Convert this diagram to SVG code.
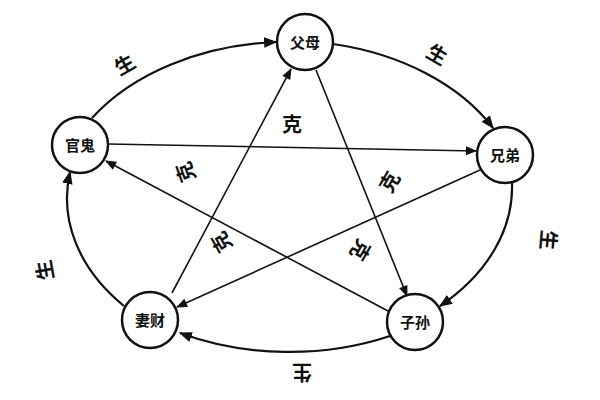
<svg xmlns="http://www.w3.org/2000/svg" width="600" height="400" viewBox="0 0 600 400">
<defs>
<style>
.n{fill:#fff;stroke:#111;stroke-width:2.5}
.t{font-family:"Noto Sans CJK SC",sans-serif;font-size:15px;font-weight:bold;text-anchor:middle;fill:#111}
.l{font-family:"Noto Sans CJK SC",sans-serif;font-size:20px;font-weight:bold;text-anchor:middle;fill:#111}
.c{fill:none;stroke:#111;stroke-width:2.2}
.s{fill:none;stroke:#111;stroke-width:1.6}
</style>
<marker id="a" viewBox="0 0 10 10" refX="9" refY="5" markerWidth="6" markerHeight="6" orient="auto" markerUnits="strokeWidth"><path d="M0,1 L10,5 L0,9 Z" fill="#111"/></marker>
<marker id="b" viewBox="0 0 10 10" refX="9" refY="5" markerWidth="8" markerHeight="7" orient="auto" markerUnits="strokeWidth"><path d="M0,1 L10,5 L0,9 Z" fill="#111"/></marker>
</defs>
<rect width="600" height="400" fill="#fff"/>
<g id="connectors">
<path class="c" d="M333,44 A235 165 0 0 1 493,128" marker-end="url(#a)"/>
<path class="c" d="M512,183 A235 165 0 0 1 440,306" marker-end="url(#a)"/>
<path class="c" d="M390,336 A235 165 0 0 1 180,333" marker-end="url(#a)"/>
<path class="c" d="M124,306 A235 165 0 0 1 70,172" marker-end="url(#a)"/>
<path class="c" d="M92,118 A235 165 0 0 1 276,42" marker-end="url(#a)"/>
<line class="s" x1="316" y1="70" x2="407" y2="296" marker-end="url(#b)"/>
<line class="s" x1="108" y1="144" x2="476" y2="151" marker-end="url(#b)"/>
<line class="s" x1="480" y1="170" x2="177" y2="307" marker-end="url(#b)"/>
<line class="s" x1="388" y1="311" x2="106" y2="161" marker-end="url(#b)"/>
<line class="s" x1="172" y1="293" x2="291" y2="69" marker-end="url(#b)"/>
</g>
<g id="n1"><circle class="n" cx="305" cy="42" r="28"/><text class="t" x="305" y="48">父母</text></g>
<g id="n2"><circle class="n" cx="505" cy="155" r="28"/><text class="t" x="505" y="161">兄弟</text></g>
<g id="n3"><circle class="n" cx="415" cy="322" r="28"/><text class="t" x="415" y="328">子孙</text></g>
<g id="n4"><circle class="n" cx="150" cy="320" r="28"/><text class="t" x="150" y="326">妻财</text></g>
<g id="n5"><circle class="n" cx="80" cy="145" r="28"/><text class="t" x="80" y="151">官鬼</text></g>
<g id="labels">
<text class="l" transform="translate(125,65) rotate(-30)" y="7">生</text>
<text class="l" transform="translate(437,55) rotate(30)" y="7">生</text>
<text class="l" transform="translate(548,240) rotate(95)" y="7">生</text>
<text class="l" transform="translate(302,372) rotate(180)" y="7">生</text>
<text class="l" transform="translate(45,270) rotate(-100)" y="7">生</text>
<text class="l" x="292" y="132">克</text>
<text class="l" transform="translate(186,172) rotate(-110)" y="7">克</text>
<text class="l" transform="translate(390,182) rotate(-60)" y="7">克</text>
<text class="l" transform="translate(222,242) rotate(-120)" y="7">克</text>
<text class="l" transform="translate(360,250) rotate(120)" y="7">克</text>
</g>
</svg>
